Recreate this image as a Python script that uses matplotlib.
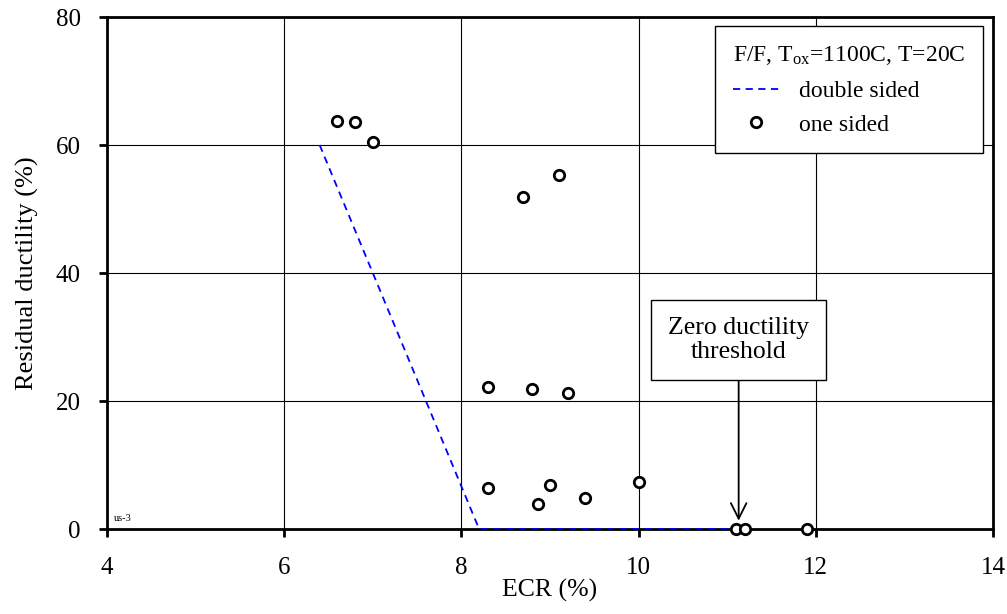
import matplotlib
matplotlib.use("Agg")
import matplotlib.pyplot as plt

plt.rcParams['font.family'] = ['Liberation Serif', 'DejaVu Serif']
plt.rcParams['mathtext.fontset'] = 'custom'
plt.rcParams['mathtext.rm'] = 'Liberation Serif'
plt.rcParams['mathtext.it'] = 'Liberation Serif:italic'

# one sided test points
ecr_one = [6.6, 6.8, 7.0, 8.7, 9.1, 8.3, 8.8, 9.2, 8.3, 8.87, 9.0, 9.4, 10.0, 11.1, 11.2, 11.9]
duct_one = [63.7, 63.6, 60.5, 51.8, 55.3, 22.2, 21.8, 21.3, 6.4, 3.9, 6.9, 4.8, 7.3, 0, 0, 0]

# double sided trend
ecr_two = [6.4, 8.2, 11.05]
duct_two = [60, 0, 0]

threshold_ecr = 11.13

fig, ax = plt.subplots(figsize=(10.07, 6.14), dpi=100)
fig.subplots_adjust(left=0.1063, right=0.986, top=0.9723, bottom=0.1384)

ax.plot(ecr_two, duct_two, '--', color='blue', lw=1.3, dashes=(4, 3),
        label='double sided', zorder=3)
ax.plot(ecr_one, duct_one, 'o', mfc='white', mec='black', mew=2, ms=7.5,
        ls='none', label='one sided', zorder=4, clip_on=False)

ax.set_xlim(4, 14)
ax.set_ylim(0, 80)
ax.set_xticks(range(4, 15, 2))
ax.set_yticks(range(0, 81, 20))
ax.grid(True, color='black', lw=0.8)
ax.set_axisbelow(True)
for s in ax.spines.values():
    s.set_linewidth(2)
ax.tick_params(direction='out', length=6, width=2, labelsize=18)
ax.tick_params(axis='x', pad=14)
ax.tick_params(axis='y', pad=13)

ax.set_xlabel('ECR (%)', fontsize=18.5, labelpad=0)
ax.set_ylabel('Residual ductility (%)', fontsize=19, labelpad=12)

leg = ax.legend(title=r'F/F, T$_{\rm ox}$=1100C, T=20C', loc='upper right',
                fontsize=17, title_fontsize=17, frameon=True, fancybox=False,
                edgecolor='black', borderpad=0.75, handlelength=2.0,
                labelspacing=0.5, handletextpad=0.8, borderaxespad=0,
                bbox_to_anchor=(0.9887, 0.982), alignment='left')
leg.get_frame().set_linewidth(1)
leg.get_frame().set_alpha(1)
leg._legend_box.sep = 10

ax.annotate('Zero ductility\nthreshold', xy=(threshold_ecr, 1.3), xytext=(threshold_ecr, 29.5),
            fontsize=18.5, ha='center', va='center', linespacing=1.15,
            bbox=dict(boxstyle='square,pad=0.65', fc='white', ec='black', lw=1),
            arrowprops=dict(arrowstyle='->', color='black', lw=1.3,
                            mutation_scale=28, shrinkA=0, shrinkB=0),
            zorder=5)

ax.text(4.08, 1.3, 'us-3', fontsize=7.5)

fig.savefig('out.png', dpi=100)
